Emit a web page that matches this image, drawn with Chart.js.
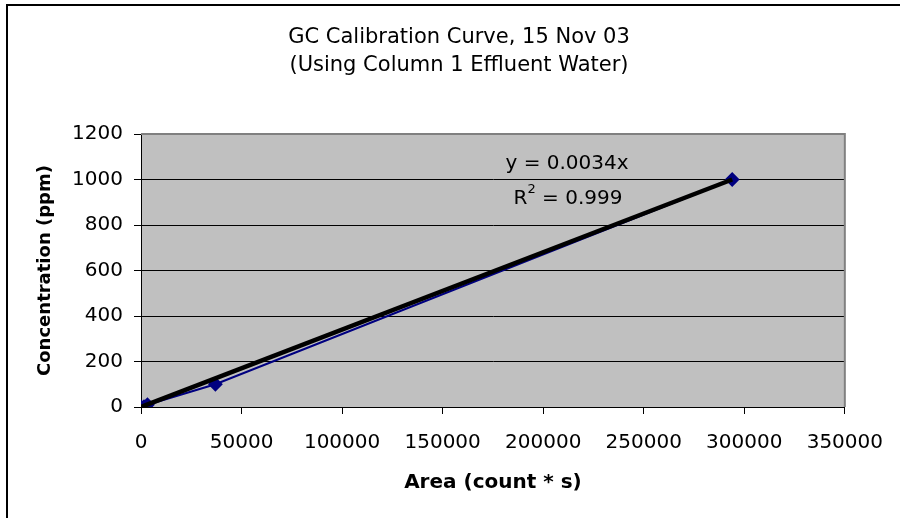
<!doctype html>
<html lang="en">
<head>
  <meta charset="utf-8">
  <title>GC Calibration Curve</title>
  <script src="https://cdn.jsdelivr.net/npm/chart.js@4.4.1/dist/chart.umd.min.js"></script>
  <style>
    body { margin: 0; background: #fff; }
  </style>
</head>
<body>
  <canvas id="calChart" width="900" height="518"></canvas>

  <script>
    // data
    const areaValues = [0, 1500, 3200, 37000, 294000];
    const concValues = [0, 2, 10, 100, 1000];
    const trendArea = [0, 294000];
    const trendConc = [0, 1000];

    const titleLines = ['GC Calibration Curve, 15 Nov 03', '(Using Column 1 Effluent Water)'];
    const xAxisTitle = 'Area (count * s)';
    const yAxisTitle = 'Concentration (ppm)';
    const eqLine = 'y = 0.0034x';
    const r2Value = '0.999';

    const xMin = 0, xMax = 350000, xStep = 50000;
    const yMin = 0, yMax = 1200, yStep = 200;

    const FONT = 'DejaVu Sans';

    const seriesPts = areaValues.map((x, i) => ({ x: x, y: concValues[i] }));
    const trendPts = trendArea.map((x, i) => ({ x: x, y: trendConc[i] }));

    const decorPlugin = {
      id: 'decor',
      beforeDraw(chart) {
        const ctx = chart.ctx;
        const a = chart.chartArea;
        ctx.save();
        ctx.fillStyle = '#fff';
        ctx.fillRect(0, 0, chart.width, chart.height);
        // outer frame (only top and left are inside the picture)
        ctx.strokeStyle = '#000';
        ctx.lineWidth = 2;
        ctx.beginPath();
        ctx.moveTo(7, chart.height);
        ctx.lineTo(7, 5);
        ctx.lineTo(chart.width, 5);
        ctx.stroke();
        // plot area
        ctx.fillStyle = '#c0c0c0';
        ctx.fillRect(a.left, a.top, a.right - a.left, a.bottom - a.top);
        ctx.restore();
      },
      beforeDatasetsDraw(chart) {
        const ctx = chart.ctx;
        const a = chart.chartArea;
        ctx.save();
        ctx.strokeStyle = '#808080';
        ctx.lineWidth = 2;
        ctx.beginPath();
        ctx.moveTo(a.left, a.top);
        ctx.lineTo(a.right, a.top);
        ctx.lineTo(a.right, a.bottom);
        ctx.stroke();
        ctx.restore();
      },
      afterDraw(chart) {
        const ctx = chart.ctx;
        ctx.save();
        ctx.fillStyle = '#000';
        ctx.textAlign = 'center';
        ctx.textBaseline = 'alphabetic';
        ctx.font = '21px "' + FONT + '"';
        ctx.fillText(titleLines[0], 459, 43);
        ctx.fillText(titleLines[1], 459, 71);

        // trendline equation
        ctx.font = '20px "' + FONT + '"';
        ctx.fillText(eqLine, 567, 169);

        const rest = ' = ' + r2Value;
        ctx.textAlign = 'left';
        const wR = ctx.measureText('R').width;
        const wRest = ctx.measureText(rest).width;
        ctx.font = '13px "' + FONT + '"';
        const wSup = ctx.measureText('2').width;
        const total = wR + wSup + wRest;
        let x = 568 - total / 2;
        ctx.font = '20px "' + FONT + '"';
        ctx.fillText('R', x, 204);
        x += wR;
        ctx.font = '13px "' + FONT + '"';
        ctx.fillText('2', x, 193);
        x += wSup;
        ctx.font = '20px "' + FONT + '"';
        ctx.fillText(rest, x, 204);
        ctx.restore();
      }
    };

    const ctx = document.getElementById('calChart').getContext('2d');

    const calChart = new Chart(ctx, {
      type: 'scatter',
      data: {
        datasets: [{
          label: 'Trendline',
          data: trendPts,
          showLine: true,
          borderColor: '#000',
          borderWidth: 4.5,
          pointRadius: 0,
          fill: false
        }, {
          label: 'Calibration',
          data: seriesPts,
          showLine: true,
          borderColor: '#000080',
          borderWidth: 2,
          pointStyle: 'rectRot',
          pointRadius: 6,
          pointBackgroundColor: '#000080',
          pointBorderColor: '#000080',
          fill: false
        }]
      },
      options: {
        responsive: false,
        animation: false,
        devicePixelRatio: 1,
        layout: { padding: { left: 0, right: 53, top: 134, bottom: 0 } },
        plugins: {
          legend: { display: false },
          title: { display: false },
          tooltip: { enabled: false }
        },
        scales: {
          x: {
            type: 'linear',
            min: xMin,
            max: xMax,
            afterFit: function(scale) { scale.height = 111; },
            ticks: {
              stepSize: xStep,
              color: '#000',
              padding: 17,
              maxRotation: 0,
              font: { family: FONT, size: 20 },
              callback: function(value) { return String(value); }
            },
            grid: {
              drawOnChartArea: false,
              color: '#000',
              tickLength: 7
            },
            border: { color: '#000', width: 1 },
            title: {
              display: true,
              text: xAxisTitle,
              color: '#000',
              font: { family: FONT, size: 20, weight: 'bold' },
              padding: { top: 0, bottom: 23 }
            }
          },
          y: {
            type: 'linear',
            min: yMin,
            max: yMax,
            afterFit: function(scale) { scale.width = 141; },
            ticks: {
              stepSize: yStep,
              color: '#000',
              padding: 11,
              font: { family: FONT, size: 20 },
              callback: function(value) { return String(value); }
            },
            grid: {
              color: '#000',
              tickColor: '#000',
              tickLength: 7
            },
            border: { color: '#000', width: 1 },
            title: {
              display: true,
              text: yAxisTitle,
              color: '#000',
              font: { family: FONT, size: 18, weight: 'bold' },
              padding: { top: 35, bottom: 0 }
            }
          }
        }
      },
      plugins: [decorPlugin]
    });
  </script>
</body>
</html>
